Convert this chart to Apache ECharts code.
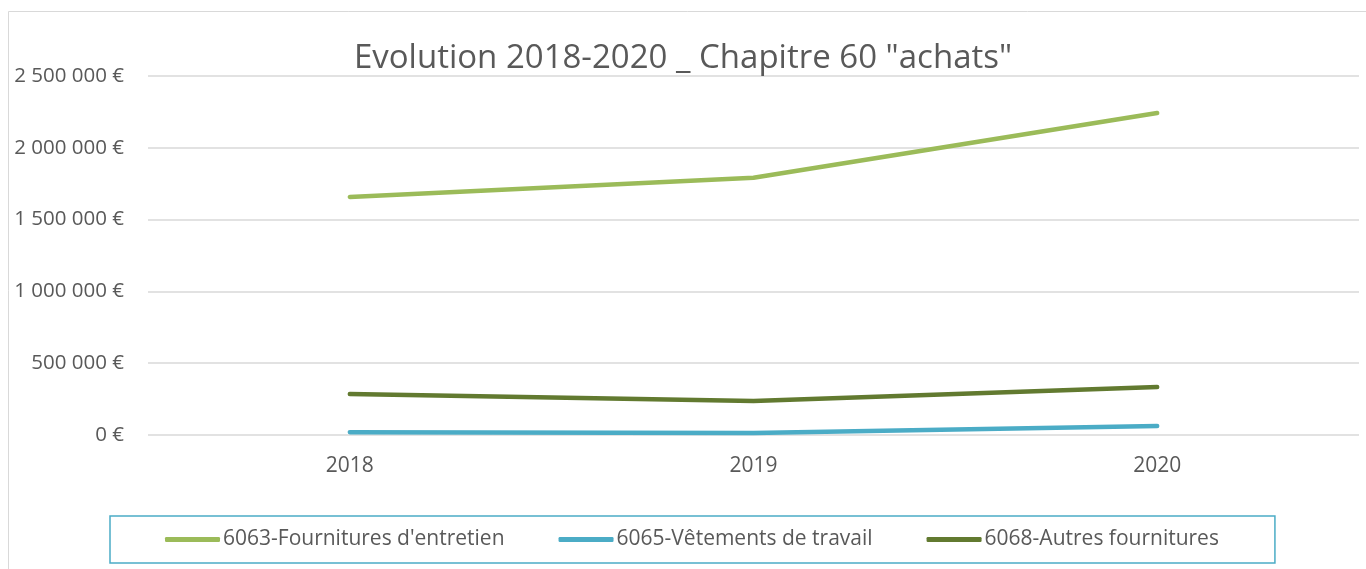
<!DOCTYPE html>
<html><head><meta charset="utf-8">
<script src="https://cdn.jsdelivr.net/npm/echarts@6/dist/echarts.min.js"></script>
<style>html,body{margin:0;padding:0;background:#fff}#c{width:1366px;height:569px}</style>
</head><body><div id="c"></div>
<script>
const categories = ['2018', '2019', '2020'];
const seriesNames = ["6063-Fournitures d'entretien", '6065-Vêtements de travail', '6068-Autres fournitures'];
const fournituresEntretien = [1658000, 1792000, 2242000];
const vetementsTravail = [20000, 14000, 63000];
const autresFournitures = [285000, 236000, 334000];
const yTicks = [0, 500000, 1000000, 1500000, 2000000, 2500000];
const colors = ['#9BBB59', '#4BACC6', '#627A30'];
const FONT = 'Open Sans';

function fmt(v){ return String(v).replace(/\B(?=(\d{3})+(?!\d))/g, ' ') + ' €'; }

const chart = echarts.init(document.getElementById('c'));
const data = [fournituresEntretien, vetementsTravail, autresFournitures];
chart.setOption({
  animation: false,
  backgroundColor: '#fff',
  title: { text: 'Evolution 2018-2020 _ Chapitre 60 "achats"', left: 'center', top: 37,
    textStyle: { fontFamily: FONT, fontSize: 33, fontWeight: 'normal', color: '#595959' } },
  graphic: [{ type: 'rect', shape: { x: 8.5, y: 11.5, width: 1400, height: 700 }, style: { fill: 'none', stroke: '#d9d9d9', lineWidth: 1 }, silent: true, z: -1 }],
  grid: { left: 148, right: 7, top: 76, bottom: 134 },
  legend: {
    left: 110, top: 516, padding: [13, 56, 13, 55], itemGap: 54,
    borderColor: '#4BACC6', borderWidth: 1.5,
    itemWidth: 55, itemHeight: 5, icon: 'roundRect',
    textStyle: { fontFamily: FONT, fontSize: 21, color: '#595959', padding: [0, 0, 0, -2] },
    data: seriesNames
  },
  xAxis: { type: 'category', data: categories, boundaryGap: true,
    axisLine: { show: false }, axisTick: { show: false },
    axisLabel: { fontFamily: FONT, fontSize: 21, color: '#595959', margin: 21 } },
  yAxis: { type: 'value', min: 0, max: yTicks[yTicks.length-1], interval: 500000,
    axisLine: { show: false }, axisTick: { show: false },
    splitLine: { lineStyle: { color: '#d9d9d9', width: 1.5 } },
    axisLabel: { fontFamily: FONT, fontSize: 20.5, color: '#595959', margin: 24, formatter: fmt } },
  series: seriesNames.map((n, i) => ({
    name: n, type: 'line', data: data[i], showSymbol: false, symbol: 'none',
    itemStyle: { color: colors[i] },
    lineStyle: { color: colors[i], width: 4.5, cap: 'round', join: 'round' }
  }))
});
</script></body></html>
